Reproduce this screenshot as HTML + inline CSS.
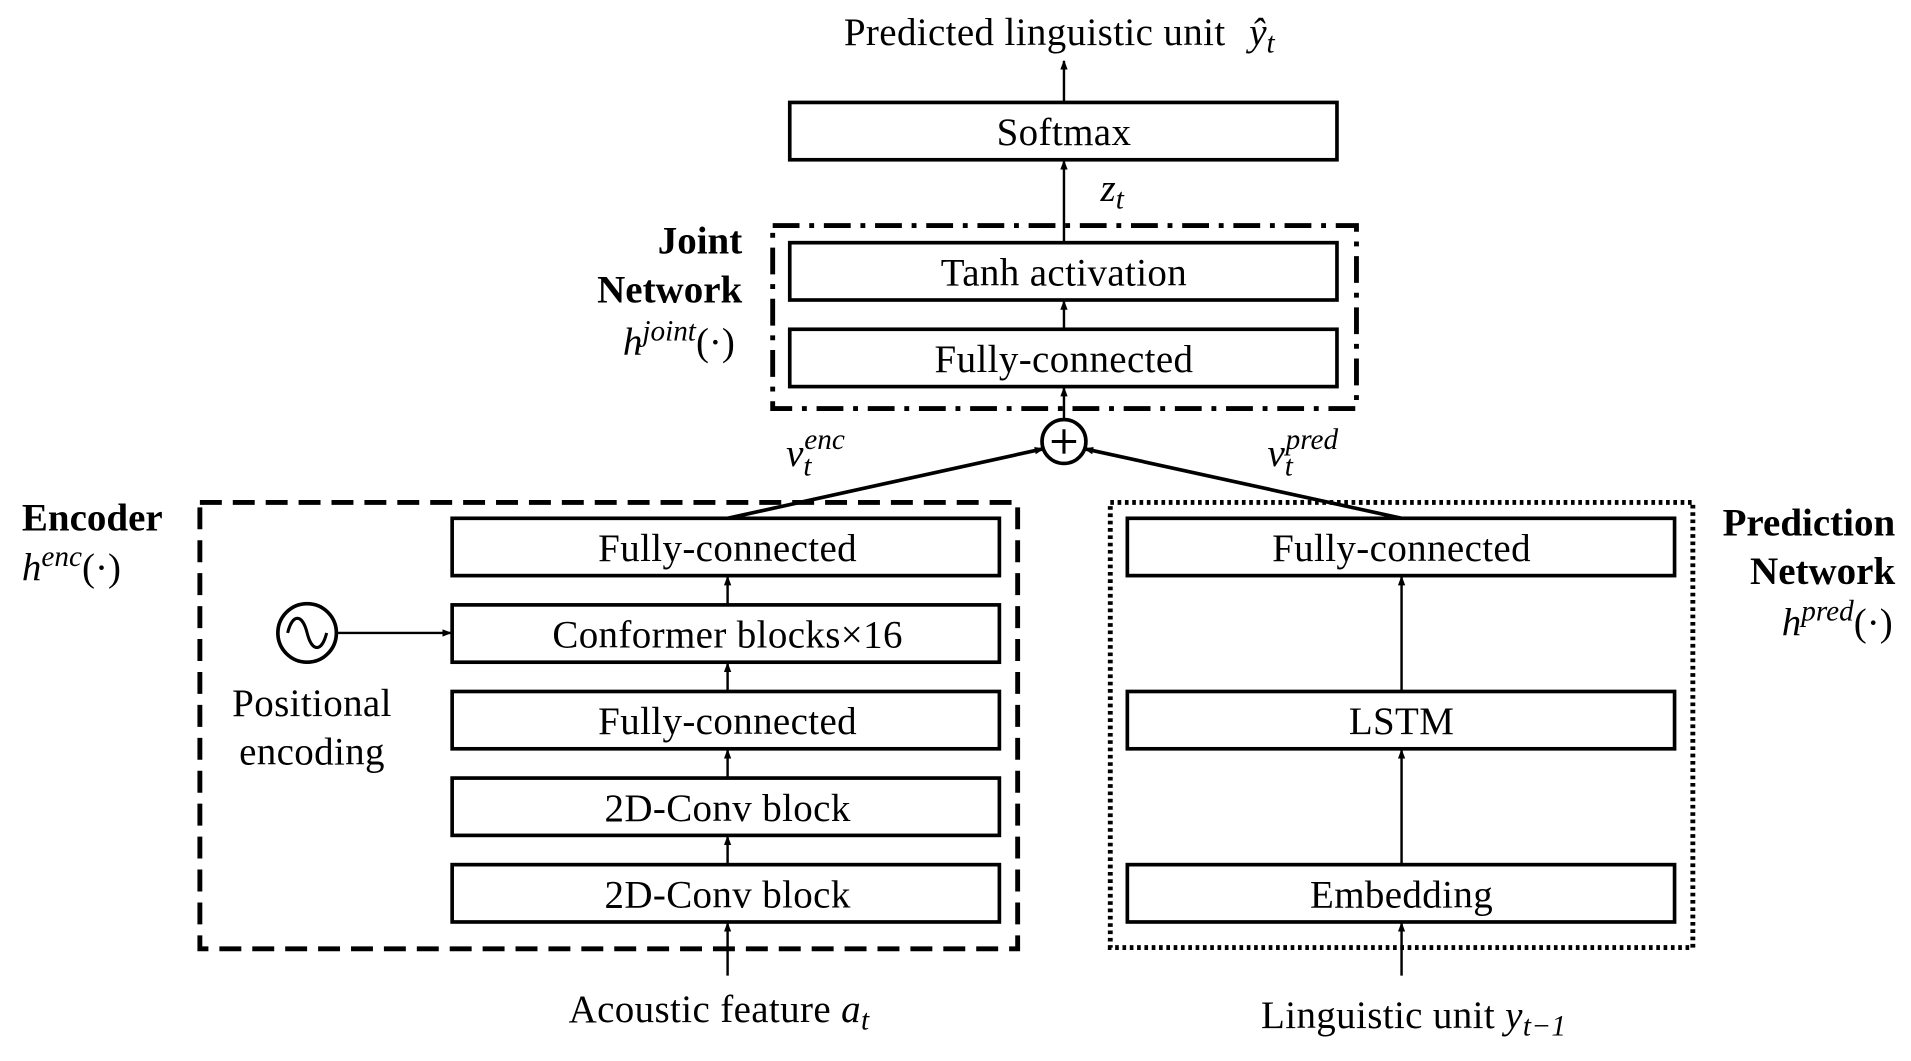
<!DOCTYPE html>
<html><head><meta charset="utf-8"><style>
html,body{margin:0;padding:0;background:#fff;}
svg{display:block;}
text{font-family:"Liberation Serif",serif;fill:#000;}
.t{font-size:32px;text-anchor:middle;letter-spacing:0.3px;}
.b{font-size:32px;font-weight:bold;}
.i{font-style:italic;}
</style></head><body>
<svg width="1911" height="1061" viewBox="0 0 1568 870" preserveAspectRatio="none">
<defs><marker id="a" markerWidth="8" markerHeight="8" refX="7" refY="4" orient="auto" markerUnits="userSpaceOnUse"><path d="M0,1 L8,4 L0,7 z" fill="#000"/></marker></defs>
<g fill="none" stroke="#000" stroke-width="3">
<rect x="648" y="84" width="449" height="47"/>
<rect x="648" y="199" width="449" height="47"/>
<rect x="648" y="270" width="449" height="47"/>
<rect x="371" y="425" width="449" height="47"/>
<rect x="371" y="496" width="449" height="47"/>
<rect x="371" y="567" width="449" height="47"/>
<rect x="371" y="638" width="449" height="47"/>
<rect x="371" y="709" width="449" height="47"/>
<rect x="925" y="425" width="449" height="47"/>
<rect x="925" y="567" width="449" height="47"/>
<rect x="925" y="709" width="449" height="47"/>
<rect x="634" y="185" width="479" height="150" stroke-width="4" stroke-dasharray="22,8,4,8"/>
<rect x="164" y="412" width="671" height="366" stroke-width="4" stroke-dasharray="18,9"/>
<rect x="911" y="412" width="478" height="365" stroke-width="4" stroke-dasharray="3,3"/>
<circle cx="873" cy="362" r="18"/>
<line x1="873" y1="352" x2="873" y2="372" stroke-width="2.5"/>
<line x1="863" y1="362" x2="883" y2="362" stroke-width="2.5"/>
<circle cx="252" cy="519" r="24"/>
<path d="M236,519 C240,503 248,503 252,519 C256,535 264,535 268,519" stroke-width="2.5"/>
</g>
<g stroke="#000" stroke-width="2" marker-end="url(#a)">
<line x1="873" y1="83" x2="873" y2="50"/>
<line x1="873" y1="199" x2="873" y2="132"/>
<line x1="873" y1="270" x2="873" y2="247"/>
<line x1="873" y1="344" x2="873" y2="318"/>
<line x1="597" y1="425" x2="856" y2="368" stroke-width="3"/>
<line x1="1150" y1="425" x2="890" y2="368" stroke-width="3"/>
<line x1="597" y1="496" x2="597" y2="473"/>
<line x1="597" y1="567" x2="597" y2="544"/>
<line x1="597" y1="638" x2="597" y2="615"/>
<line x1="597" y1="709" x2="597" y2="686"/>
<line x1="597" y1="800" x2="597" y2="757"/>
<line x1="1150" y1="567" x2="1150" y2="473"/>
<line x1="1150" y1="709" x2="1150" y2="615"/>
<line x1="1150" y1="800" x2="1150" y2="757"/>
<line x1="276" y1="519" x2="370" y2="519"/>
</g>
<text class="t" x="849" y="37">Predicted linguistic unit</text>
<text x="1025" y="37" font-size="32" class="i">ŷ<tspan font-size="24" dy="6">t</tspan></text>
<text class="t" x="873" y="119">Softmax</text>
<text x="903" y="165" font-size="32" class="i">z<tspan font-size="24" dy="6">t</tspan></text>
<text class="t" x="873" y="234">Tanh activation</text>
<text class="t" x="873" y="305">Fully-connected</text>
<text class="t" x="597" y="460">Fully-connected</text>
<text class="t" x="597" y="531">Conformer blocks×16</text>
<text class="t" x="597" y="602">Fully-connected</text>
<text class="t" x="597" y="673">2D-Conv block</text>
<text class="t" x="597" y="744">2D-Conv block</text>
<text class="t" x="1150" y="460">Fully-connected</text>
<text class="t" x="1150" y="602">LSTM</text>
<text class="t" x="1150" y="744">Embedding</text>
<text class="t" x="256" y="587">Positional</text>
<text class="t" x="256" y="627">encoding</text>
<text class="t" x="590" y="838">Acoustic feature <tspan class="i">a</tspan><tspan class="i" font-size="24" dy="6">t</tspan></text>
<text class="t" x="1160" y="843">Linguistic unit <tspan class="i">y</tspan><tspan class="i" font-size="24" dy="6">t−1</tspan></text>
<text x="645" y="382" font-size="32" class="i">v<tspan font-size="24" dy="8">t</tspan><tspan font-size="24" dy="-22" dx="-6">enc</tspan></text>
<text x="1040" y="382" font-size="32" class="i">v<tspan font-size="24" dy="8">t</tspan><tspan font-size="24" dy="-22" dx="-6">pred</tspan></text>
<text class="b" x="609" y="208" text-anchor="end">Joint</text>
<text class="b" x="609" y="248" text-anchor="end">Network</text>
<text x="603" y="291" font-size="32" text-anchor="end"><tspan class="i">h</tspan><tspan class="i" font-size="24" dy="-12">joint</tspan><tspan dy="12">(·)</tspan></text>
<text class="b" x="18" y="435">Encoder</text>
<text x="18" y="476" font-size="32"><tspan class="i">h</tspan><tspan class="i" font-size="24" dy="-12">enc</tspan><tspan dy="12">(·)</tspan></text>
<text class="b" x="1555" y="439" text-anchor="end">Prediction</text>
<text class="b" x="1555" y="479" text-anchor="end">Network</text>
<text x="1553" y="521" font-size="32" text-anchor="end"><tspan class="i">h</tspan><tspan class="i" font-size="24" dy="-12">pred</tspan><tspan dy="12">(·)</tspan></text>
</svg>
</body></html>
